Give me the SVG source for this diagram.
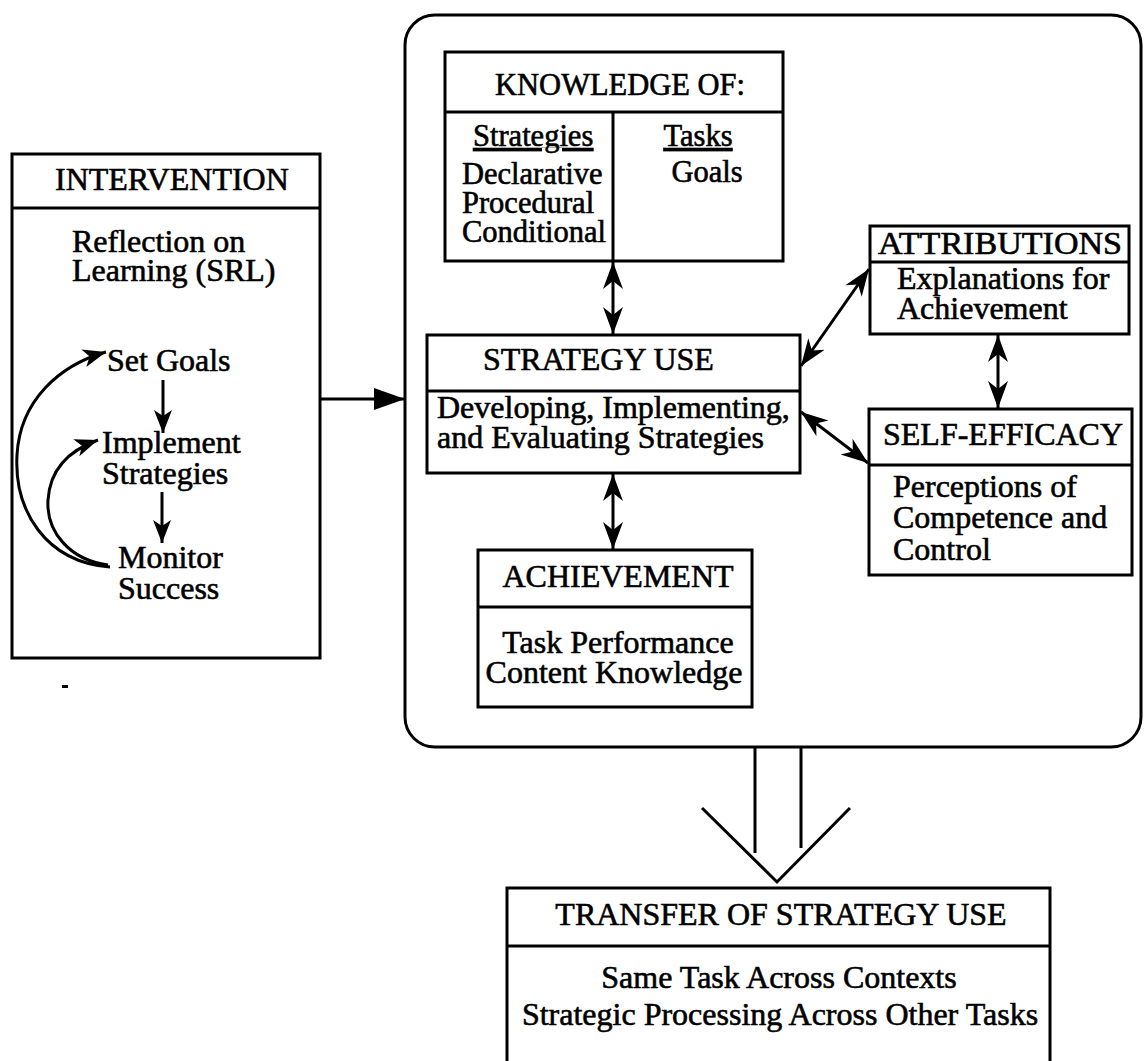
<svg xmlns="http://www.w3.org/2000/svg" width="1144" height="1061" viewBox="0 0 1144 1061">
<style>
text{font-family:"Liberation Serif","Times New Roman",serif;font-size:32px;fill:#000;stroke:#000;stroke-width:0.6}
.k{font-size:30.5px}
.box{fill:none;stroke:#000;stroke-width:3}
.ln{fill:none;stroke:#000;stroke-width:3}
.c{text-anchor:middle}
</style>
<defs>
<marker id="dart" markerUnits="userSpaceOnUse" markerWidth="30" markerHeight="24" refX="27" refY="11" orient="auto-start-reverse" viewBox="0 0 30 22">
<path d="M0,1 L27,11 L0,21 L8,11 z" fill="#000"/>
</marker>
<marker id="tri" markerUnits="userSpaceOnUse" markerWidth="34" markerHeight="26" refX="31" refY="12" orient="auto" viewBox="0 0 34 24">
<path d="M0,1 L31,12 L0,23 z" fill="#000"/>
</marker>
<marker id="sm" markerUnits="userSpaceOnUse" markerWidth="26" markerHeight="22" refX="23" refY="10" orient="auto" viewBox="0 0 26 20">
<path d="M0,1 L23,10 L0,19 L6,10 z" fill="#000"/>
</marker>
</defs>
<rect width="1144" height="1061" fill="#fff"/>

<g id="intervention">
<rect class="box" x="12" y="154" width="308" height="504"/>
<line class="ln" x1="12" y1="208" x2="320" y2="208"/>
<text x="55" y="190">INTERVENTION</text>
<text x="72" y="252">Reflection on</text>
<text x="72" y="281">Learning (SRL)</text>
<text x="107" y="371">Set Goals</text>
<text x="102" y="453">Implement</text>
<text x="102" y="484">Strategies</text>
<text x="118" y="568">Monitor</text>
<text x="118" y="599">Success</text>
</g>

<g id="system">
<rect class="box" x="405" y="15" width="736" height="732" rx="30" ry="30"/>
</g>

<g id="knowledge">
<rect class="box" x="445" y="52" width="338" height="209"/>
<line class="ln" x1="445" y1="112" x2="783" y2="112"/>
<line class="ln" x1="613" y1="112" x2="613" y2="261"/>
<text class="c k" x="620" y="95">KNOWLEDGE OF:</text>
<text class="k" x="473" y="146" text-decoration="underline">Strategies</text>
<text class="k" x="462" y="184">Declarative</text>
<text class="k" x="462" y="213">Procedural</text>
<text class="k" x="462" y="242">Conditional</text>
<text class="c k" x="698" y="146" text-decoration="underline">Tasks</text>
<text class="c k" x="707" y="182">Goals</text>
</g>

<g id="strategy-use">
<rect class="box" x="427" y="335" width="373" height="138"/>
<line class="ln" x1="427" y1="391" x2="800" y2="391"/>
<text x="483" y="370">STRATEGY USE</text>
<text x="437" y="418">Developing, Implementing,</text>
<text x="437" y="448">and Evaluating Strategies</text>
</g>

<g id="achievement">
<rect class="box" x="478" y="550" width="274" height="157"/>
<line class="ln" x1="478" y1="607" x2="752" y2="607"/>
<text class="c" x="618" y="587">ACHIEVEMENT</text>
<text class="c" x="618" y="653">Task Performance</text>
<text class="c" x="614" y="683">Content Knowledge</text>
</g>

<g id="attributions">
<rect class="box" x="870" y="226" width="259" height="108"/>
<line class="ln" x1="870" y1="262" x2="1129" y2="262"/>
<text class="c" x="1000" y="254" textLength="244" lengthAdjust="spacingAndGlyphs">ATTRIBUTIONS</text>
<text x="897" y="289">Explanations for</text>
<text x="897" y="319">Achievement</text>
</g>

<g id="self-efficacy">
<rect class="box" x="869" y="409" width="263" height="166"/>
<line class="ln" x1="869" y1="465" x2="1132" y2="465"/>
<text x="883" y="445">SELF-EFFICACY</text>
<text x="893" y="497">Perceptions of</text>
<text x="893" y="528">Competence and</text>
<text x="893" y="560">Control</text>
</g>

<g id="transfer">
<rect class="box" x="507" y="888" width="543" height="190"/>
<line class="ln" x1="507" y1="946" x2="1050" y2="946"/>
<text class="c" x="781" y="925">TRANSFER OF STRATEGY USE</text>
<text class="c" x="779" y="988">Same Task Across Contexts</text>
<text class="c" x="780" y="1025">Strategic Processing Across Other Tasks</text>
</g>

<g id="connectors">
<line class="ln" x1="613" y1="262" x2="613" y2="334" marker-start="url(#dart)" marker-end="url(#dart)"/>
<line class="ln" x1="613" y1="474" x2="613" y2="549" marker-start="url(#dart)" marker-end="url(#dart)"/>
<line class="ln" x1="801" y1="366" x2="869" y2="269" marker-start="url(#dart)" marker-end="url(#dart)"/>
<line class="ln" x1="801" y1="412" x2="868" y2="463" marker-start="url(#dart)" marker-end="url(#dart)"/>
<line class="ln" x1="998" y1="335" x2="998" y2="408" marker-start="url(#dart)" marker-end="url(#dart)"/>
<line class="ln" x1="320" y1="399" x2="405" y2="399" marker-end="url(#tri)"/>
<line class="ln" x1="163" y1="380" x2="163" y2="433" marker-end="url(#sm)"/>
<line class="ln" x1="162" y1="492" x2="162" y2="543" marker-end="url(#sm)"/>
<path class="ln" stroke-width="3.5" d="M110,567 C45,562 14,510 17,455 C20,400 60,365 106,352" marker-end="url(#sm)"/>
<path class="ln" stroke-width="3.5" d="M108,565 C70,560 46,532 48,500 C50,468 70,450 98,440" marker-end="url(#sm)"/>
<path class="ln" d="M755,747 L755,853 M801,747 L801,848 M702,808 L777,882 L850,808"/>
<rect x="62" y="685" width="6" height="3" fill="#000"/>
</g>
</svg>
